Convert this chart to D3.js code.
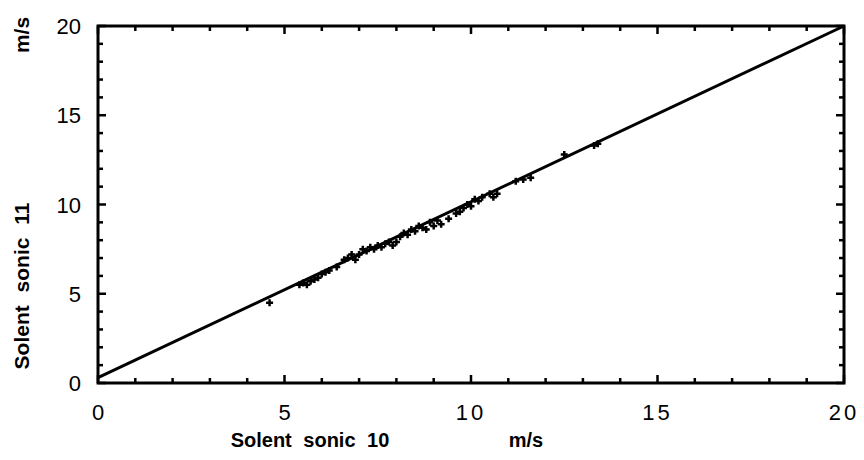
<!DOCTYPE html>
<html><head><meta charset="utf-8">
<script src="https://cdn.jsdelivr.net/npm/d3@7"></script>
<style>body{margin:0;background:#fff}svg{display:block}</style>
</head><body>
<script>
const xTicks = [0, 5, 10, 15, 20];
const yTicks = [0, 5, 10, 15, 20];
const xVals = [4.6,5.4,5.5,5.6,5.7,5.8,5.9,6.0,6.1,6.2,6.4,6.6,6.7,6.8,6.9,7.0,7.1,7.2,7.3,7.4,7.5,7.6,7.7,7.8,7.9,8.0,8.1,8.2,8.3,8.4,8.5,8.6,8.7,8.8,8.9,9.0,9.1,9.2,9.4,9.6,9.7,9.8,9.9,10.0,10.1,10.2,10.3,10.5,10.6,10.7,11.2,11.4,11.6,12.5,13.3,13.4];
const yVals = [4.5,5.5,5.6,5.5,5.7,5.8,5.9,6.1,6.2,6.3,6.5,6.9,7.0,7.2,6.9,7.2,7.5,7.4,7.6,7.5,7.7,7.6,7.8,7.9,7.7,7.9,8.2,8.4,8.3,8.6,8.5,8.8,8.7,8.6,9.0,8.8,9.1,8.9,9.2,9.5,9.6,9.8,10.0,9.9,10.3,10.2,10.4,10.6,10.4,10.6,11.3,11.4,11.5,12.8,13.3,13.4];
const minorTicks = [0,1,2,3,4,5,6,7,8,9,10,11,12,13,14,15,16,17,18,19,20];
const fitX = [0, 20];
const fitY = [0.3, 20];

const W = 864, H = 460;
const L = 98, R = 844, T = 26, B = 383;
const svg = d3.select("body").append("svg").attr("width", W).attr("height", H);
const xs = d3.scaleLinear().domain([0, 20]).range([L, R]);
const ys = d3.scaleLinear().domain([0, 20]).range([B, T]);

// frame
svg.append("rect").attr("x", L).attr("y", T).attr("width", R - L).attr("height", B - T)
  .attr("fill", "none").attr("stroke", "#000").attr("stroke-width", 3);

// inward ticks on all four sides
const tl = d => (d % 5 === 0 ? 8 : 5);
const tw = 2.5;
const tk = svg.append("g").attr("fill", "#000");
tk.selectAll("rect.b").data(minorTicks).join("rect").attr("class", "b")
  .attr("x", d => xs(d) - tw / 2).attr("y", d => B - tl(d)).attr("width", tw).attr("height", d => tl(d));
tk.selectAll("rect.t").data(minorTicks).join("rect").attr("class", "t")
  .attr("x", d => xs(d) - tw / 2).attr("y", T).attr("width", tw).attr("height", d => tl(d));
tk.selectAll("rect.l").data(minorTicks).join("rect").attr("class", "l")
  .attr("x", L).attr("y", d => ys(d) - tw / 2).attr("width", d => tl(d)).attr("height", tw);
tk.selectAll("rect.r").data(minorTicks).join("rect").attr("class", "r")
  .attr("x", d => R - tl(d)).attr("y", d => ys(d) - tw / 2).attr("width", d => tl(d)).attr("height", tw);

const lf = "Liberation Sans, Arial, sans-serif";
// tick labels
svg.append("g").selectAll("text").data(xTicks).join("text")
  .attr("x", d => xs(d)).attr("y", 420).attr("text-anchor", "middle")
  .attr("font-family", lf).attr("font-size", 22)
  .attr("letter-spacing", d => d >= 10 ? 3 : 0)
  .text(d => d);
svg.append("g").selectAll("text").data(yTicks).join("text")
  .attr("x", 81).attr("y", d => ys(d) + 8).attr("text-anchor", "end")
  .attr("font-family", lf).attr("font-size", 22)
  .text(d => d);

// axis labels
svg.append("text").attr("x", 310).attr("y", 447).attr("text-anchor", "middle")
  .attr("font-family", lf).attr("font-weight", "bold").attr("font-size", 20)
  .attr("word-spacing", 6).text("Solent sonic 10");
svg.append("text").attr("x", 526).attr("y", 447).attr("text-anchor", "middle")
  .attr("font-family", lf).attr("font-weight", "bold").attr("font-size", 20).text("m/s");
svg.append("text").attr("transform", "translate(29,286) rotate(-90)").attr("text-anchor", "middle")
  .attr("font-family", lf).attr("font-weight", "bold").attr("font-size", 21)
  .attr("word-spacing", 7).text("Solent sonic 11");
svg.append("text").attr("transform", "translate(29,35) rotate(-90)").attr("text-anchor", "middle")
  .attr("font-family", lf).attr("font-weight", "bold").attr("font-size", 21).text("m/s");

// fit line
svg.append("line").attr("x1", xs(fitX[0])).attr("y1", ys(fitY[0])).attr("x2", xs(fitX[1])).attr("y2", ys(fitY[1]))
  .attr("stroke", "#000").attr("stroke-width", 3);

// points (plus markers)
const pts = xVals.map((v, i) => [v, yVals[i]]);
const s = 3.5;
svg.append("g").selectAll("path").data(pts).join("path")
  .attr("d", d => `M${xs(d[0]) - s},${ys(d[1])}h${2 * s}M${xs(d[0])},${ys(d[1]) - s}v${2 * s}`)
  .attr("stroke", "#000").attr("stroke-width", 2.5);
</script>
</body></html>
